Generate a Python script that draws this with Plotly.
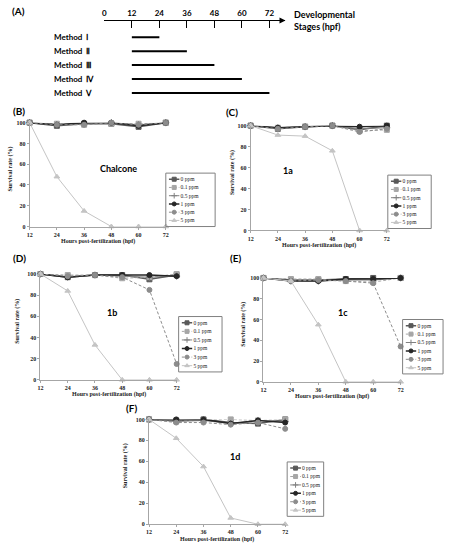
import plotly.graph_objects as go

W, H = 450, 550

# %% data
hours = [12, 24, 36, 48, 60, 72]
doses = ["0 ppm", "0.1 ppm", "0.5 ppm", "1 ppm", "3 ppm", "5 ppm"]

# survival rate (%), one row per dose (same order as doses)
chalcone = [
    [100, 97, 99, 99, 96, 100],
    [100, 99, 98, 99, 99, 100],
    [100, 98, 99, 100, 98, 100],
    [100, 98, 100, 100, 97, 100],
    [100, 98, 98, 100, 98, 100],
    [100, 48, 15, 0, 0, 0],
]
cpd_1a = [
    [100, 97, 99, 100, 96, 100],
    [100, 98, 99, 100, 95, 96],
    [100, 98, 99, 100, 97, 98],
    [100, 98, 99, 100, 99, 100],
    [100, 97, 99, 100, 94, 97],
    [100, 91, 90, 76, 0, 0],
]
cpd_1b = [
    [100, 97, 99, 99, 95, 99],
    [100, 99, 99, 96, 97, 100],
    [100, 97, 99, 98, 97, 98],
    [100, 97, 99, 99, 99, 98],
    [100, 98, 99, 97, 85, 15],
    [100, 84, 33, 0, 0, 0],
]
cpd_1c = [
    [100, 98, 98, 99, 100, 100],
    [100, 99, 99, 97, 96, 100],
    [100, 97, 97, 98, 98, 100],
    [100, 97, 97, 99, 99, 100],
    [100, 97, 98, 97, 95, 34],
    [100, 97, 55, 0, 0, 0],
]
cpd_1d = [
    [100, 99, 100, 97, 96, 100],
    [100, 98, 100, 100, 99, 100],
    [100, 98, 99, 96, 99, 98],
    [100, 100, 100, 96, 99, 97],
    [100, 97, 97, 95, 97, 91],
    [100, 82, 55, 6, 0, 0],
]

stage_ticks = [0, 12, 24, 36, 48, 60, 72]
methods = ["Method  Ⅰ", "Method  Ⅱ", "Method  Ⅲ", "Method  Ⅳ", "Method  Ⅴ"]
method_start = 12
method_end = [24, 36, 48, 60, 72]

# %% styles
colors = ["#595959", "#a6a6a6", "#808080", "#262626", "#8c8c8c", "#c4c4c4"]
dashes = ["solid", "3px,2px", "solid", "solid", "3px,2px", "solid"]
symbols = ["square", "square", "cross-thin", "circle", "circle", "triangle-up"]
widths = [1.5, 1, 1, 1.5, 1, 1]
msizes = [5, 5, 5, 5, 5, 5]

SERIF = "Liberation Serif"
SANS = "Lato"
AXC = "#a6a6a6"


def fx(p):
    return p / W


def fy(p):
    return 1 - p / H


# panel tag, compound label, data, plot box (l,t,r,b), legend box, label centre, tag pos, ytitle x
panels = [
    ("(B)", "Chalcone", chalcone, (27, 121, 165, 226), (165, 172, 215, 226), (117, 167), (8, 109), 8),
    ("(C)", "1a", cpd_1a, (251, 124, 389, 230), (390, 174, 434, 228), (289, 169), (224, 110), 232),
    ("(D)", "1b", cpd_1b, (38, 274, 176, 381), (178, 317, 222, 373), (110, 313), (8, 258), 15),
    ("(E)", "1c", cpd_1c, (264, 278, 403, 383), (405, 320, 446, 375), (345, 313), (228, 258), 244),
    ("(F)", "1d", cpd_1d, (148, 421, 286, 527), (288, 464, 325, 519), (235, 459), (123, 409), 125),
]

fig = go.Figure()
layout = {}
annotations = []
shapes = []

# %% panel A - exposure windows
a_left, a_ppu = 102.7, 2.324
layout["xaxis"] = dict(
    domain=[fx(a_left), fx(a_left + 79 * a_ppu)], range=[0, 79], anchor="y", side="top",
    tickvals=stage_ticks, ticks="inside", ticklen=7, tickwidth=1.2, tickcolor="black",
    showline=True, linecolor="black", linewidth=1.2, showgrid=False, zeroline=False,
    tickfont=dict(family=SANS, size=8, color="black", weight="bold"),
)
layout["yaxis"] = dict(
    domain=[fy(98), fy(17.7)], type="category", categoryarray=methods,
    range=[4.5, -1.2], anchor="x", visible=False,
)
for i, end in enumerate(method_end):
    fig.add_trace(go.Scatter(
        x=[method_start, end], y=[methods[i], methods[i]], xaxis="x", yaxis="y",
        mode="lines", line=dict(color="black", width=2), showlegend=False, hoverinfo="skip",
    ))
    annotations.append(dict(
        text=methods[i], xref="paper", x=fx(50), xanchor="left", yref="y", y=methods[i],
        yanchor="middle", showarrow=False,
        font=dict(family=SANS, size=8, color="black", weight="bold"),
    ))
annotations.append(dict(
    text="", xref="x", x=79, yref="paper", y=fy(17.7), ax=-8, ay=0, showarrow=True,
    arrowhead=2, arrowsize=1, arrowwidth=1.2, arrowcolor="black",
))
annotations.append(dict(
    text="Developmental<br>Stages (hpf)", xref="paper", x=fx(293), xanchor="left", align="left",
    yref="paper", y=fy(18), yanchor="middle", showarrow=False,
    font=dict(family=SANS, size=9, color="black", weight="bold"),
))
annotations.append(dict(
    text="(A)", xref="paper", x=fx(7), xanchor="left", yref="paper", y=fy(8), yanchor="middle",
    showarrow=False, font=dict(family=SANS, size=10, color="black", weight="bold"),
))

# %% panels B-F
for k, (tag, name, rates, box, lbox, lab, tagpos, ytx) in enumerate(panels):
    n = k + 2
    l, t, r, b = box
    xa, ya = f"x{n}", f"y{n}"
    tickfont = dict(family=SERIF, size=6, color="#222222", weight="bold")
    layout[f"xaxis{n}"] = dict(
        domain=[fx(l), fx(r)], range=[12, 72], anchor=ya, tickvals=hours,
        ticks="outside", ticklen=2, tickcolor=AXC, showline=True, linecolor=AXC,
        showgrid=False, zeroline=False, tickfont=tickfont,
    )
    layout[f"yaxis{n}"] = dict(
        domain=[fy(b), fy(t)], range=[0, 100], anchor=xa, dtick=20,
        ticks="outside", ticklen=2, tickcolor=AXC, showline=True, linecolor=AXC,
        showgrid=False, zeroline=False, tickfont=tickfont,
    )
    for i, d in enumerate(doses):
        fig.add_trace(go.Scatter(
            x=hours, y=rates[i], xaxis=xa, yaxis=ya, name=d, mode="lines+markers",
            line=dict(color=colors[i], width=widths[i], dash=dashes[i]),
            marker=dict(symbol=symbols[i], size=msizes[i], color=colors[i],
                        line=dict(color=colors[i], width=1)),
            cliponaxis=False, showlegend=False,
        ))

    # hand-made legend box (one per panel)
    m = k + 7
    bl, bt, br, bb = lbox
    layout[f"xaxis{m}"] = dict(domain=[fx(bl + 3), fx(bl + 14)], range=[0, 1], anchor=f"y{m}", visible=False)
    layout[f"yaxis{m}"] = dict(
        domain=[fy(bb - 2), fy(bt + 2)], type="category", categoryarray=doses,
        range=[5.5, -0.5], anchor=f"x{m}", side="right", showline=False, showgrid=False,
        zeroline=False, ticks="", tickfont=dict(family=SERIF, size=5.5, color="#222222"),
    )
    for i, d in enumerate(doses):
        fig.add_trace(go.Scatter(
            x=[0, 0.5, 1], y=[d, d, d], xaxis=f"x{m}", yaxis=f"y{m}", mode="lines+markers",
            line=dict(color=colors[i], width=widths[i], dash=dashes[i]),
            marker=dict(symbol=symbols[i], size=4, color=colors[i], opacity=[0, 1, 0],
                        line=dict(color=colors[i], width=1)),
            cliponaxis=False, showlegend=False, hoverinfo="skip",
        ))
    shapes.append(dict(type="rect", xref="paper", yref="paper", x0=fx(bl), x1=fx(br),
                       y0=fy(bb), y1=fy(bt), line=dict(color="#808080", width=1)))

    annotations += [
        dict(text=name, xref="paper", x=fx(lab[0]), yref="paper", y=fy(lab[1]),
             xanchor="center", yanchor="middle", showarrow=False,
             font=dict(family=SANS, size=9, color="black", weight="bold")),
        dict(text=tag, xref="paper", x=fx(tagpos[0]), xanchor="left", yref="paper", y=fy(tagpos[1]),
             yanchor="middle", showarrow=False,
             font=dict(family=SANS, size=10, color="black", weight="bold")),
        dict(text="Survival rate (%)", textangle=-90, xref="paper", x=fx(ytx), yref="paper",
             y=fy((t + b) / 2 - 6), xanchor="center", yanchor="middle", showarrow=False,
             font=dict(family=SERIF, size=6, color="#222222", weight="bold")),
        dict(text="Hours post-fertilization (hpf)", xref="paper", x=fx((l + r) / 2), yref="paper",
             y=fy(b + 15), xanchor="center", yanchor="middle", showarrow=False,
             font=dict(family=SERIF, size=6, color="#222222", weight="bold")),
    ]

fig.update_layout(
    width=W, height=H, margin=dict(l=0, r=0, t=0, b=0),
    paper_bgcolor="white", plot_bgcolor="white",
    annotations=annotations, shapes=shapes, **layout,
)

# page body has an 8px default margin; drop it so the figure sits at the window's corner
fig.write_html("out.html", config={"displayModeBar": False},
               post_script="document.body.style.margin='0';")
